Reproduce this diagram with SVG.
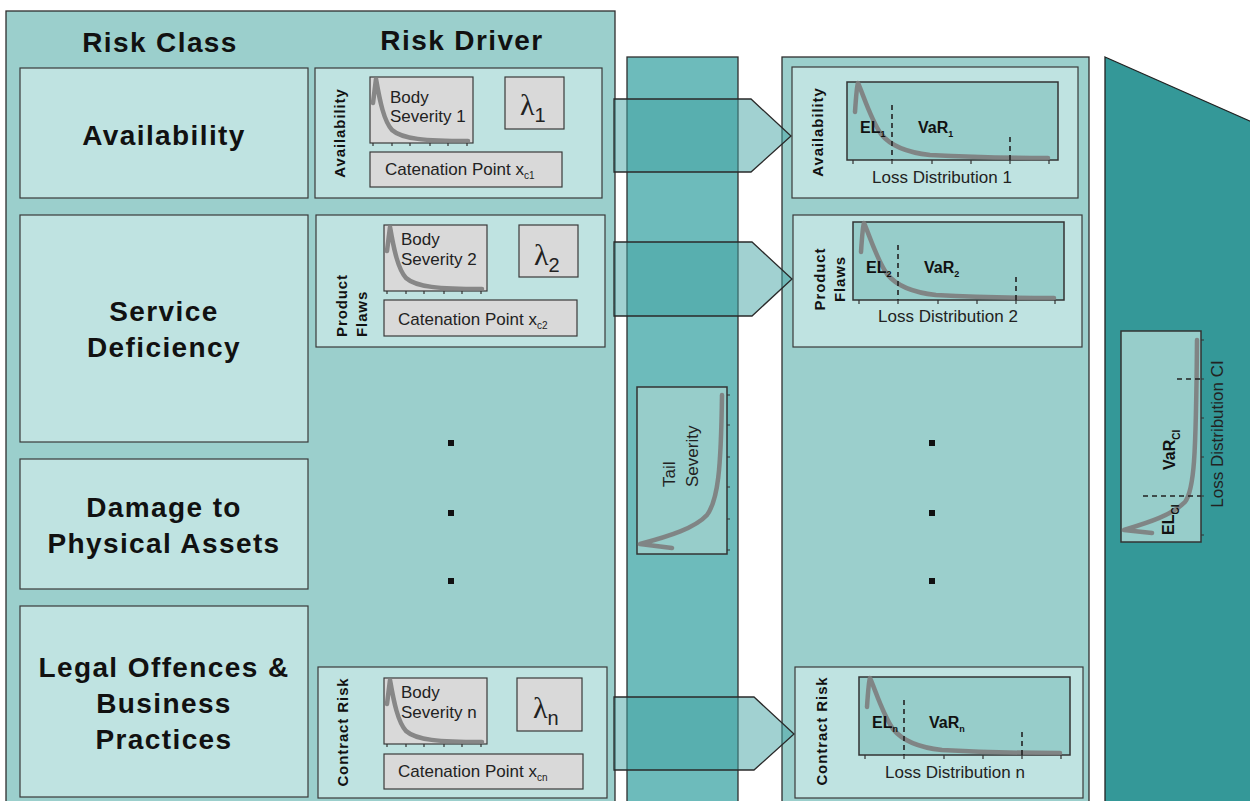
<svg xmlns="http://www.w3.org/2000/svg" xmlns:xlink="http://www.w3.org/1999/xlink" width="1250" height="801" viewBox="0 0 1250 801">
<style>
.panel{fill:#9BCFCC;stroke:#2e2e2e;stroke-width:1.3}
.inner{fill:#BFE3E1;stroke:#3a3a3a;stroke-width:1.2}
.gray{fill:#D9D9D9;stroke:#3a3a3a;stroke-width:1.2}
.chart{fill:#97CDCA;stroke:#333;stroke-width:1.5}
.curve{fill:none;stroke:#7d7d7d;stroke-width:4.5;stroke-linejoin:round;stroke-linecap:round;opacity:.9}
.dash{stroke:#222;stroke-width:1.6;stroke-dasharray:5 4;fill:none}
.tick{stroke:#333;stroke-width:1.2;fill:none}
.h{font-family:"Liberation Sans",Arial,sans-serif;font-weight:bold;font-size:28px;letter-spacing:1.4px;fill:#111;text-anchor:middle}
.rl{font-family:"Liberation Sans",Arial,sans-serif;font-weight:bold;font-size:15px;letter-spacing:0.9px;fill:#111}
.t{font-family:"Liberation Sans",Arial,sans-serif;font-size:17px;fill:#222}
.lam{font-family:"Liberation Serif","Times New Roman",serif;font-size:30px;fill:#222}
.sub{font-family:"Liberation Sans",Arial,sans-serif;font-size:20px;fill:#222}
.b{font-family:"Liberation Sans",Arial,sans-serif;font-weight:bold;font-size:16px;fill:#111}
.arrow{fill:#44A3A3;fill-opacity:.5;stroke:#2a2a2a;stroke-width:1.3;stroke-linejoin:miter}
.dot{fill:#111}
</style>
<defs>
<g id="ldchart">
<rect class="chart" x="0" y="0" width="211" height="78"/>
<path class="curve" d="M8,30 C9,15 10,3 11,1 C16,12 24,38 34,52 C42,62 55,70 83,73 C120,75 160,76 201,76"/>
<path class="dash" d="M45,23 V78 M163,55 V78"/>
<path class="tick" d="M6,78 v4 M45,78 v4 M85,78 v4 M124,78 v4 M163,78 v4 M202,78 v4"/>
</g>
<g id="bodychart">
<rect class="gray" x="0" y="0" width="103" height="66"/>
<path class="curve" d="M3,26 L6,2 C10,25 14,44 22,53 C32,62 55,64 98,64"/>
<path class="tick" d="M3,66 v3 M22,66 v3 M40,66 v3 M60,66 v3 M78,66 v3 M97,66 v3"/>
</g>
</defs>

<g id="risk-panel">
<rect class="panel" x="6" y="11" width="609" height="800"/>
<text class="h" x="160" y="52">Risk Class</text>
<text class="h" x="462" y="50">Risk Driver</text>
</g>

<g id="class-availability">
<rect class="inner" x="20" y="68" width="288" height="130"/>
<text class="h" x="164" y="145">Availability</text>
</g>
<g id="class-service">
<rect class="inner" x="20" y="215" width="288" height="227"/>
<text class="h" x="164" y="321">Service</text>
<text class="h" x="164" y="357">Deficiency</text>
</g>
<g id="class-damage">
<rect class="inner" x="20" y="459" width="288" height="130"/>
<text class="h" x="164" y="517">Damage to</text>
<text class="h" x="164" y="553">Physical Assets</text>
</g>
<g id="class-legal">
<rect class="inner" x="20" y="606" width="288" height="191"/>
<text class="h" x="164" y="677">Legal Offences &amp;</text>
<text class="h" x="164" y="713">Business</text>
<text class="h" x="164" y="749">Practices</text>
</g>

<g id="driver-1">
<rect class="inner" x="315" y="68" width="287" height="130"/>
<text class="rl" transform="translate(345,133) rotate(-90)" text-anchor="middle">Availability</text>
<use xlink:href="#bodychart" transform="translate(370,77)"/>
<text class="t" x="390" y="103">Body</text>
<text class="t" x="390" y="122">Severity 1</text>
<rect class="gray" x="505" y="77" width="59" height="52"/>
<text x="520" y="115"><tspan class="lam">λ</tspan><tspan class="sub" dy="7">1</tspan></text>
<rect class="gray" x="370" y="152" width="192" height="35"/>
<text class="t" x="385" y="175">Catenation Point x<tspan font-size="10" dy="4">c1</tspan></text>
</g>

<g id="driver-2">
<rect class="inner" x="316" y="215" width="289" height="132"/>
<text class="rl" transform="translate(347,337) rotate(-90)">Product</text>
<text class="rl" transform="translate(367,337) rotate(-90)">Flaws</text>
<use xlink:href="#bodychart" transform="translate(384,225)"/>
<text class="t" x="401" y="245">Body</text>
<text class="t" x="401" y="265">Severity 2</text>
<rect class="gray" x="519" y="225" width="59" height="52"/>
<text x="534" y="265"><tspan class="lam">λ</tspan><tspan class="sub" dy="7">2</tspan></text>
<rect class="gray" x="384" y="300" width="193" height="36"/>
<text class="t" x="398" y="325">Catenation Point x<tspan font-size="10" dy="4">c2</tspan></text>
</g>

<g id="driver-dots">
<rect class="dot" x="448" y="440" width="6" height="6"/>
<rect class="dot" x="448" y="510" width="6" height="6"/>
<rect class="dot" x="448" y="578" width="6" height="6"/>
</g>

<g id="driver-n">
<rect class="inner" x="318" y="667" width="289" height="131"/>
<text class="rl" transform="translate(348,732) rotate(-90)" text-anchor="middle">Contract Risk</text>
<use xlink:href="#bodychart" transform="translate(384,678)"/>
<text class="t" x="401" y="698">Body</text>
<text class="t" x="401" y="718">Severity n</text>
<rect class="gray" x="517" y="678" width="65" height="53"/>
<text x="533" y="718"><tspan class="lam">λ</tspan><tspan class="sub" dy="7">n</tspan></text>
<rect class="gray" x="384" y="754" width="199" height="35"/>
<text class="t" x="398" y="777">Catenation Point x<tspan font-size="10" dy="4">cn</tspan></text>
</g>

<g id="tail-bar">
<rect x="627" y="57" width="111" height="760" fill="#6DBBBB" stroke="#2e2e2e" stroke-width="1.3"/>
<rect class="chart" x="637" y="387" width="90" height="167"/>
<path class="curve" d="M672,548 L640,544 C670,536 695,528 707,515 C718,500 721,470 722,395"/>
<path class="tick" d="M727,395 h3 M727,425 h3 M727,457 h3 M727,487 h3 M727,519 h3 M727,550 h3"/>
<text class="t" font-size="18" transform="translate(675,487) rotate(-90)">Tail</text>
<text class="t" font-size="18" transform="translate(698,487) rotate(-90)">Severity</text>
</g>

<g id="loss-panel">
<rect class="panel" x="782" y="57" width="307" height="760"/>
</g>

<g id="loss-1">
<rect class="inner" x="792" y="67" width="286" height="131"/>
<text class="rl" transform="translate(823,132) rotate(-90)" text-anchor="middle">Availability</text>
<use xlink:href="#ldchart" transform="translate(847,82)"/>
<text class="b" x="860" y="133">EL<tspan font-size="9" dy="4">1</tspan></text>
<text class="b" x="918" y="133">VaR<tspan font-size="9" dy="4">1</tspan></text>
<text class="t" x="872" y="183">Loss Distribution 1</text>
</g>

<g id="loss-2">
<rect class="inner" x="793" y="215" width="289" height="132"/>
<text class="rl" transform="translate(825,279) rotate(-90)" text-anchor="middle">Product</text>
<text class="rl" transform="translate(845,279) rotate(-90)" text-anchor="middle">Flaws</text>
<use xlink:href="#ldchart" transform="translate(853,222)"/>
<text class="b" x="866" y="273">EL<tspan font-size="9" dy="4">2</tspan></text>
<text class="b" x="924" y="273">VaR<tspan font-size="9" dy="4">2</tspan></text>
<text class="t" x="878" y="322">Loss Distribution 2</text>
</g>

<g id="loss-dots">
<rect class="dot" x="929" y="440" width="6" height="6"/>
<rect class="dot" x="929" y="510" width="6" height="6"/>
<rect class="dot" x="929" y="578" width="6" height="6"/>
</g>

<g id="loss-n">
<rect class="inner" x="795" y="667" width="288" height="131"/>
<text class="rl" transform="translate(827,731) rotate(-90)" text-anchor="middle">Contract Risk</text>
<use xlink:href="#ldchart" transform="translate(859,677)"/>
<text class="b" x="872" y="728">EL<tspan font-size="9" dy="4">n</tspan></text>
<text class="b" x="929" y="728">VaR<tspan font-size="9" dy="4">n</tspan></text>
<text class="t" x="885" y="778">Loss Distribution n</text>
</g>

<g id="connectors">
<path class="arrow" d="M614,99 H751 L791,136 L751,172 H614 Z"/>
<path class="arrow" d="M614,242 H752 L792,279 L752,316 H614 Z"/>
<path class="arrow" d="M614,697 H754 L794,734 L754,770 H614 Z"/>
</g>

<g id="aggregate">
<polygon points="1105,57 1252,122 1252,812 1105,812" fill="#349898" stroke="#222" stroke-width="1.3"/>
<rect class="chart" x="1121" y="331" width="80" height="211"/>
<path class="curve" d="M1152,533 L1124,530 C1150,522 1172,515 1185,502 C1194,490 1196,460 1197,340"/>
<path class="dash" d="M1177,379 H1201 M1143,496 H1201"/>
<path class="tick" d="M1201,340 h3 M1201,379 h3 M1201,418 h3 M1201,457 h3 M1201,496 h3 M1201,535 h3"/>
<text class="b" transform="translate(1175,470) rotate(-90)">VaR<tspan font-size="10" dy="5">CI</tspan></text>
<text class="b" transform="translate(1174,535) rotate(-90)">EL<tspan font-size="10" dy="5">CI</tspan></text>
<text class="t" transform="translate(1223,434) rotate(-90)" text-anchor="middle">Loss Distribution CI</text>
</g>
</svg>
